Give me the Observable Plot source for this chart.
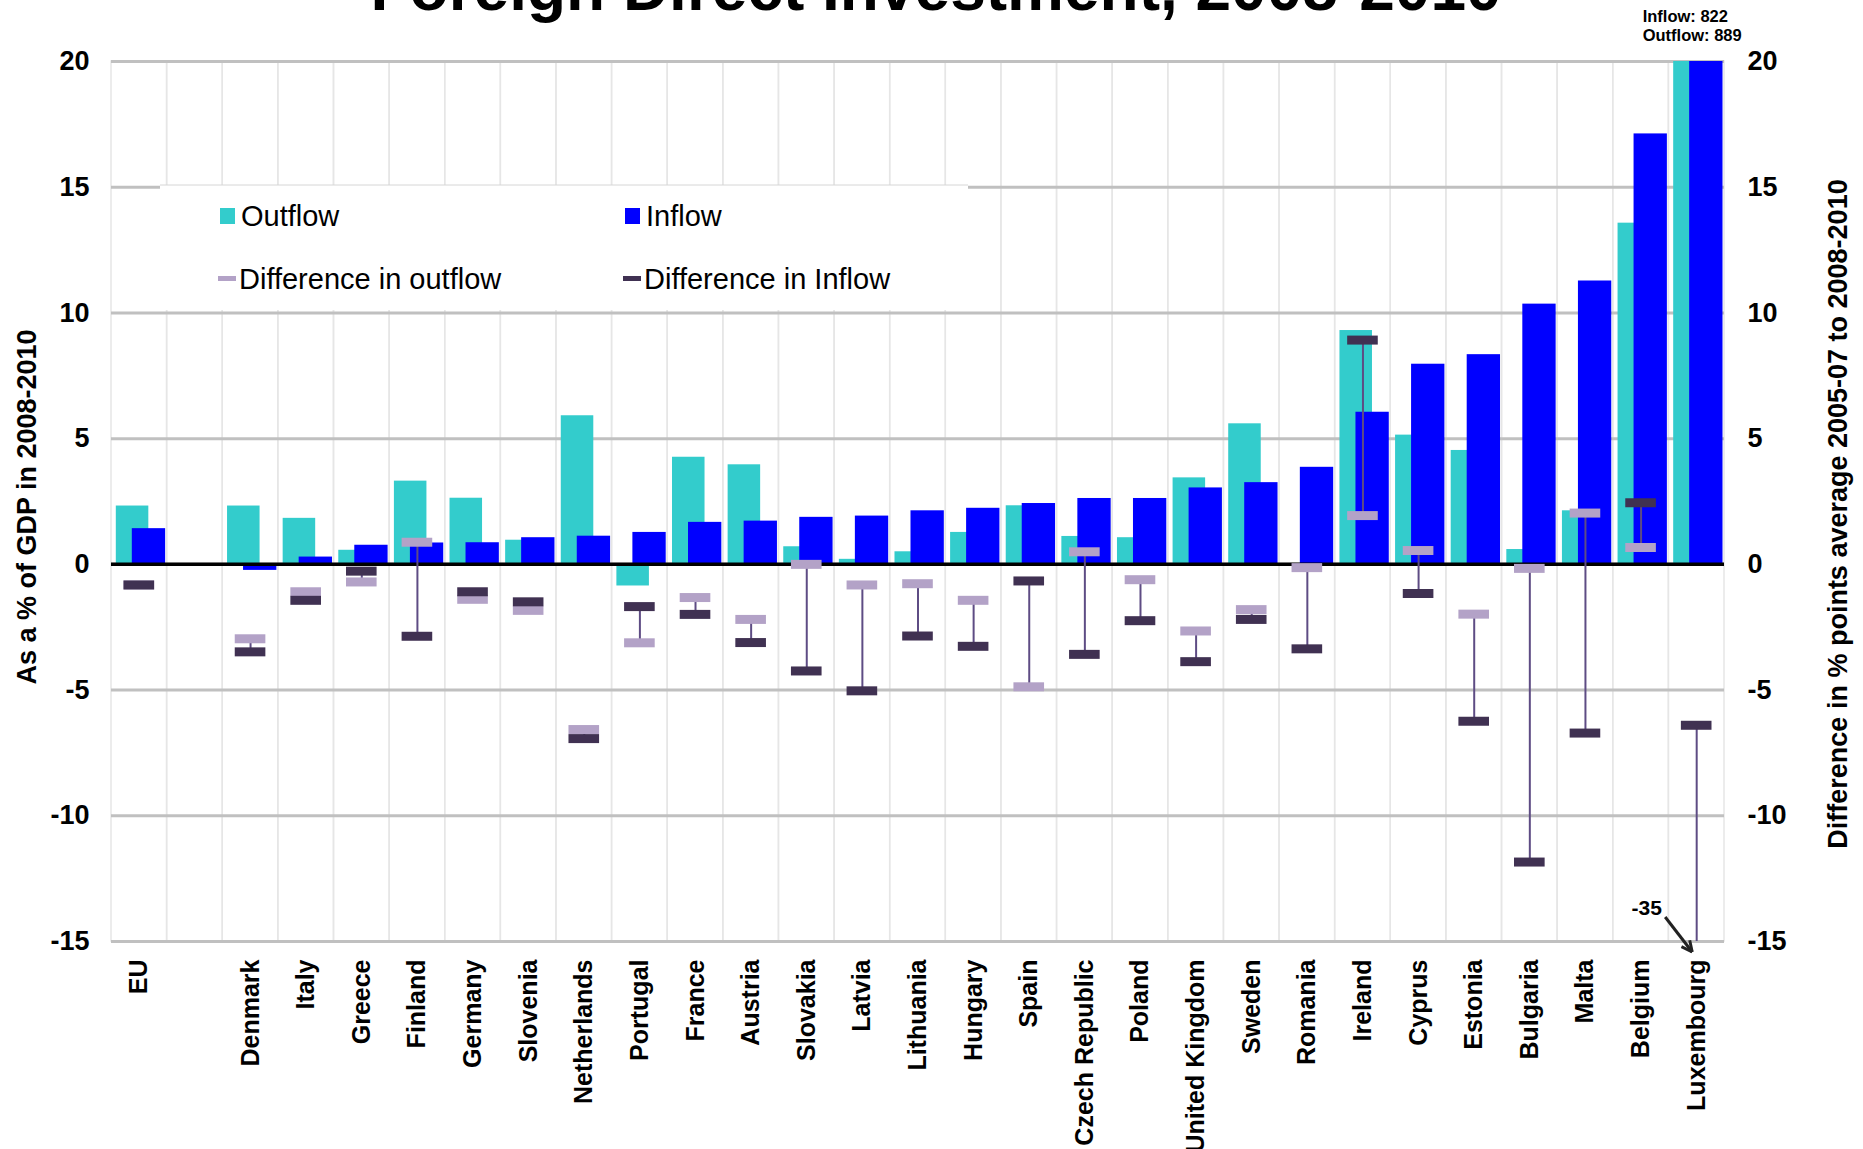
<!DOCTYPE html>
<html>
<head>
<meta charset="utf-8">
<script src="https://cdn.jsdelivr.net/npm/d3@7"></script>
<script src="https://cdn.jsdelivr.net/npm/@observablehq/plot@0.6"></script>
<style>
  html, body { margin: 0; padding: 0; background: #fff; }
  #wrap { position: relative; width: 1863px; height: 1149px; overflow: hidden; font-family: "Liberation Sans", Arial, sans-serif; }
  #wrap > svg.overlay { position: absolute; left: 0; top: 0; pointer-events: none; }
</style>
</head>
<body>
<div id="wrap"></div>
<script>
// ---- data ----
const countries = ["EU", "Denmark", "Italy", "Greece", "Finland", "Germany", "Slovenia", "Netherlands", "Portugal", "France", "Austria", "Slovakia", "Latvia", "Lithuania", "Hungary", "Spain", "Czech Republic", "Poland", "United Kingdom", "Sweden", "Romania", "Ireland", "Cyprus", "Estonia", "Bulgaria", "Malta", "Belgium", "Luxembourg"];
const outflow = [2.32, 2.32, 1.83, 0.56, 3.31, 2.63, 0.96, 5.91, -0.86, 4.26, 3.96, 0.70, 0.20, 0.50, 1.27, 2.33, 1.11, 1.06, 3.44, 5.59, 0, 9.30, 5.14, 4.53, 0.59, 2.13, 13.57, 889];
const inflow = [1.42, -0.24, 0.29, 0.76, 0.85, 0.86, 1.06, 1.12, 1.27, 1.67, 1.72, 1.87, 1.92, 2.13, 2.23, 2.42, 2.62, 2.62, 3.04, 3.25, 3.86, 6.05, 7.96, 8.34, 10.35, 11.27, 17.12, 822];
const diffOutflow = [-0.82, -2.96, -1.09, -0.70, 0.88, -1.39, -1.83, -6.57, -3.12, -1.32, -2.19, 0.0, -0.82, -0.77, -1.43, -4.87, 0.50, -0.61, -2.65, -1.80, -0.13, 1.94, 0.55, -1.98, -0.16, 2.04, 0.67, -35];
const diffInflow = [-0.82, -3.48, -1.43, -0.27, -2.86, -1.09, -1.49, -6.93, -1.68, -1.99, -3.11, -4.24, -5.03, -2.85, -3.26, -0.66, -3.58, -2.24, -3.87, -2.19, -3.36, 8.92, -1.16, -6.24, -11.84, -6.71, 2.45, -6.40];
const yTicks = [-15, -10, -5, 0, 5, 10, 15, 20];
const title = "Foreign Direct Investment, 2008-2010";
const yLabelLeft = "As a % of GDP in 2008-2010";
const yLabelRight = "Difference in % points average 2005-07 to 2008-2010";
const legendItems = ["Outflow", "Inflow", "Difference in outflow", "Difference in Inflow"];

// ---- build ----
const C_OUT = "#33CCCC", C_IN = "#0000FF", C_DOUT = "#B3A2C7", C_DIN = "#403152", C_RULE = "#5E4C84";
const xDomain = [countries[0], "", ...countries.slice(1)];
const rows = countries.map((c, i) => ({country: c, outflow: outflow[i], inflow: inflow[i], dOut: diffOutflow[i], dIn: diffInflow[i]}));
const lux = rows.filter(d => d.country === "Luxembourg");
const fmt = d => `${d}`;

const plot = Plot.plot({
  width: 1863, height: 1149,
  marginTop: 61, marginBottom: 208, marginLeft: 111, marginRight: 139,
  x: {domain: xDomain, padding: 0, round: false, axis: null},
  y: {domain: [-15, 20], axis: null},
  style: {fontFamily: "'Liberation Sans', Arial, sans-serif", background: "white", color: "black", overflow: "visible"},
  marks: [
    Plot.barY(xDomain, {x: d => d, y1: -15, y2: 20, fill: "none", stroke: "#E6E6E6", strokeWidth: 1.5}),
    Plot.ruleY(yTicks, {stroke: "#C0C0C0", strokeWidth: 3}),
    Plot.barY(rows, {x: "country", y: "outflow", fill: C_OUT, insetLeft: 4.8, insetRight: 18.3, clip: true}),
    Plot.barY(rows, {x: "country", y: "inflow", fill: C_IN, insetLeft: 20.8, insetRight: 1.5, clip: true}),
    Plot.ruleY([0], {stroke: "black", strokeWidth: 3.5}),
    Plot.ruleX(rows, {x: "country", y1: "dOut", y2: "dIn", stroke: C_RULE, strokeWidth: 2, clip: true}),
    Plot.tickY(rows, {x: "country", y: "dOut", stroke: C_DOUT, strokeWidth: 9, insetLeft: 12.5, insetRight: 12.5, clip: true}),
    Plot.tickY(rows, {x: "country", y: "dIn", stroke: C_DIN, strokeWidth: 9, insetLeft: 12.5, insetRight: 12.5, clip: true}),
    Plot.axisY(yTicks, {anchor: "left", tickSize: 0, tickPadding: 22, fontSize: 27, fontWeight: "bold", tickFormat: fmt, label: null}),
    Plot.axisY(yTicks, {anchor: "right", tickSize: 0, tickPadding: 23, fontSize: 27, fontWeight: "bold", tickFormat: fmt, label: null}),
    Plot.axisX({anchor: "bottom", tickRotate: -90, tickSize: 0, tickPadding: 18, fontSize: 25, fontWeight: "bold", label: null}),
    Plot.text(lux, {x: "country", frameAnchor: "top", text: d => `Inflow: ${d.inflow}`, textAnchor: "start", lineAnchor: "middle", dx: -54, dy: -45, fontSize: 16.5, fontWeight: "bold"}),
    Plot.text(lux, {x: "country", frameAnchor: "top", text: d => `Outflow: ${d.outflow}`, textAnchor: "start", lineAnchor: "middle", dx: -54, dy: -26, fontSize: 16.5, fontWeight: "bold"}),
    Plot.text(lux, {x: "country", frameAnchor: "bottom", text: d => `${d.dOut}`, textAnchor: "middle", lineAnchor: "middle", dx: -50, dy: -33, fontSize: 21, fontWeight: "bold"})
  ]
});

const wrap = document.getElementById("wrap");
wrap.appendChild(plot);

// overlay: title, axis titles, legend, arrow
const xs = plot.scale("x"), ys = plot.scale("y");
const luxCx = xs.apply("Luxembourg") + xs.bandwidth / 2;
const yBot = ys.apply(-15);

const ov = d3.create("svg").attr("class", "overlay").attr("width", 1863).attr("height", 1149)
  .style("font-family", "'Liberation Sans', Arial, sans-serif");

ov.append("text").attr("x", 936).attr("y", 10).attr("text-anchor", "middle")
  .attr("font-size", 64).attr("font-weight", "bold").text(title);

ov.append("text").attr("transform", "translate(27,507) rotate(-90)").attr("text-anchor", "middle")
  .attr("dominant-baseline", "central").attr("font-size", 27).attr("font-weight", "bold").text(yLabelLeft);
ov.append("text").attr("transform", "translate(1838,514) rotate(-90)").attr("text-anchor", "middle")
  .attr("dominant-baseline", "central").attr("font-size", 27).attr("font-weight", "bold").text(yLabelRight);

// legend box
const lg = ov.append("g");
lg.append("rect").attr("x", 160).attr("y", 185).attr("width", 808).attr("height", 125).attr("fill", "white");
lg.append("line").attr("x1", 160).attr("x2", 968).attr("y1", 185).attr("y2", 185).attr("stroke", "#D6D6D6").attr("stroke-width", 1);
const items = [
  {label: legendItems[0], x: 220, y: 216, kind: "box", color: C_OUT},
  {label: legendItems[1], x: 625, y: 216, kind: "box", color: C_IN},
  {label: legendItems[2], x: 218, y: 279, kind: "dash", color: C_DOUT},
  {label: legendItems[3], x: 623, y: 279, kind: "dash", color: C_DIN}
];
for (const it of items) {
  if (it.kind === "box") lg.append("rect").attr("x", it.x).attr("y", it.y - 8).attr("width", 15).attr("height", 16).attr("fill", it.color);
  else lg.append("rect").attr("x", it.x).attr("y", it.y - 3).attr("width", 18).attr("height", 5).attr("fill", it.color);
  lg.append("text").attr("x", it.x + 21).attr("y", it.y).attr("dominant-baseline", "central")
    .attr("font-size", 29).attr("fill", "black").text(it.label);
}

// arrow pointing to the off-scale value
const ax1 = luxCx - 31, ay1 = yBot - 24, ax2 = luxCx - 4, ay2 = yBot + 11;
const ang = Math.atan2(ay2 - ay1, ax2 - ax1);
ov.append("line").attr("x1", ax1).attr("y1", ay1).attr("x2", ax2).attr("y2", ay2).attr("stroke", "#222").attr("stroke-width", 3);
for (const s of [-1, 1]) {
  const a = ang + Math.PI + s * 0.45;
  ov.append("line").attr("x1", ax2).attr("y1", ay2).attr("x2", ax2 + 12 * Math.cos(a)).attr("y2", ay2 + 12 * Math.sin(a))
    .attr("stroke", "#222").attr("stroke-width", 3);
}
wrap.appendChild(ov.node());
</script>
</body>
</html>
